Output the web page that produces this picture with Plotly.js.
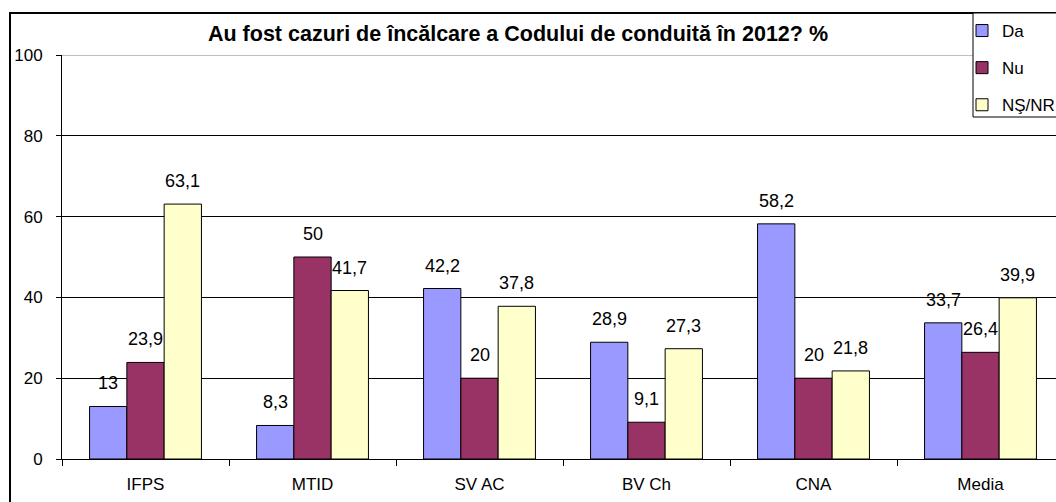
<!DOCTYPE html>
<html>
<head>
<meta charset="utf-8">
<script src="https://cdn.plot.ly/plotly-3.0.1.min.js"></script>
<style>html,body{margin:0;padding:0;background:#fff;}#chart{width:1056px;height:502px;}</style>
</head>
<body>
<div id="chart"></div>
<script>
var categories = ["IFPS", "MTID", "SV AC", "BV Ch", "CNA", "Media"];
var seriesNames = ["Da", "Nu", "NŞ/NR"];
var da = [13, 8.3, 42.2, 28.9, 58.2, 33.7];
var nu = [23.9, 50, 20, 9.1, 20, 26.4];
var nsnr = [63.1, 41.7, 37.8, 27.3, 21.8, 39.9];
var yTicks = [0, 20, 40, 60, 80, 100];
var colors = ["#9999FF", "#993366", "#FFFFCC"];
var seriesValues = [da, nu, nsnr];

var W = 1056, H = 502;
var mL = 62, mR = 0, mT = 55, mB = 43;
var plotW = W - mL - mR, plotH = H - mT - mB;
var catPx = 167;
var xMax = -0.5 + plotW / catPx;
var bargap = 0.33;
var barPx = catPx * (1 - bargap) / 3;
var FONT = "Liberation Sans, Arial, sans-serif";

function px2paperX(p) { return (p - mL) / plotW; }
function px2paperY(p) { return (H - mB - p) / plotH; }

var traces = seriesValues.map(function (vals, i) {
  return {
    type: "bar",
    name: seriesNames[i],
    x: categories,
    y: vals,
    legendgroup: "g" + i,
    marker: { color: colors[i], line: { color: "#000", width: 1 } },
    hoverinfo: "x+y+name"
  };
});

var annotations = [];
seriesValues.forEach(function (vals, i) {
  vals.forEach(function (v, j) {
    annotations.push({
      x: categories[j], y: v, xref: "x", yref: "y",
      text: String(v).replace(".", ","),
      showarrow: false,
      xshift: (i - 1) * barPx,
      yshift: 23,
      yanchor: "middle",
      font: { family: FONT, size: 18, color: "#000" }
    });
  });
});

var shapes = [
  // gray top gridline at 100
  { type: "line", xref: "paper", yref: "y", x0: 0, x1: 1, y0: 100, y1: 100,
    line: { color: "#808080", width: 1 }, layer: "above" },
  // outer chart frame
  { type: "rect", xref: "paper", yref: "paper",
    x0: px2paperX(10), x1: px2paperX(1120), y0: px2paperY(560), y1: px2paperY(13),
    line: { color: "#000", width: 2 }, fillcolor: "rgba(0,0,0,0)", layer: "above" },
  // legend box
  { type: "rect", xref: "paper", yref: "paper",
    x0: px2paperX(973), x1: px2paperX(1120), y0: px2paperY(117), y1: px2paperY(13),
    line: { color: "#000", width: 1 }, fillcolor: "#fff", layer: "above" }
];

var layout = {
  width: W, height: H,
  margin: { l: mL, r: mR, t: mT, b: mB, autoexpand: false },
  paper_bgcolor: "#fff", plot_bgcolor: "#fff",
  font: { family: FONT, size: 17, color: "#000" },
  title: {
    text: "<b>Au fost cazuri de încălcare a Codului de conduită în 2012? %</b>",
    font: { family: FONT, size: 21.5, color: "#000" },
    xref: "container", yref: "container",
    x: 518 / W, xanchor: "center",
    y: 1 - 33 / H, yanchor: "middle"
  },
  barmode: "group", bargap: bargap, bargroupgap: 0,
  xaxis: {
    type: "category",
    range: [-0.5, xMax],
    tickson: "boundaries",
    ticks: "outside", ticklen: 6, tickcolor: "#000", tickwidth: 1,
    showline: true, linecolor: "#000", linewidth: 1,
    showgrid: false, zeroline: false,
    ticklabelstandoff: 10,
    tickfont: { family: FONT, size: 17, color: "#000" },
    fixedrange: true
  },
  yaxis: {
    range: [0, 100],
    tickmode: "array", tickvals: yTicks, ticktext: yTicks.map(String),
    ticks: "outside", ticklen: 5, tickcolor: "#000", tickwidth: 1,
    showline: true, linecolor: "#000", linewidth: 1,
    showgrid: true, gridcolor: "#000", gridwidth: 1,
    zeroline: false,
    ticklabelstandoff: 10,
    tickfont: { family: FONT, size: 17, color: "#000" },
    fixedrange: true
  },
  showlegend: true,
  legend: {
    x: px2paperX(962), xanchor: "left",
    y: px2paperY(13), yanchor: "top",
    bgcolor: "rgba(0,0,0,0)", borderwidth: 0,
    tracegroupgap: 12,
    traceorder: "grouped",
    font: { family: FONT, size: 17, color: "#000" }
  },
  annotations: annotations,
  shapes: shapes
};

Plotly.newPlot("chart", traces, layout, { displayModeBar: false, staticPlot: true });
</script>
</body>
</html>
